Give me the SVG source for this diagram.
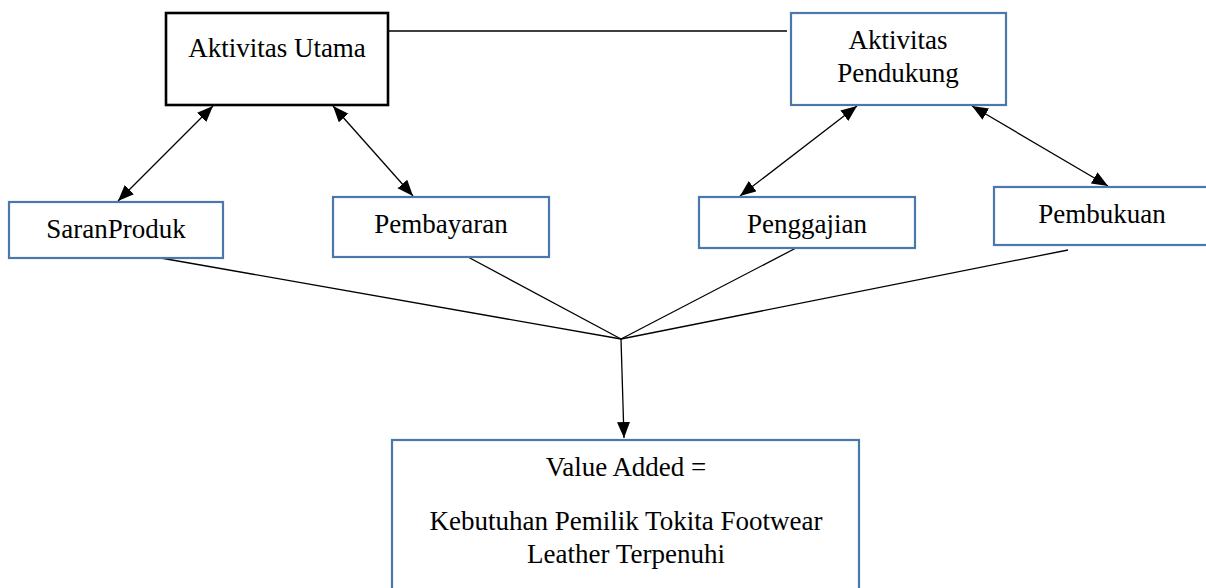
<svg xmlns="http://www.w3.org/2000/svg" width="1206" height="588" viewBox="0 0 1206 588">
  <defs>
    <style>
      .box { fill: #ffffff; stroke: #4a78ad; stroke-width: 2.2; }
      .main { fill: #ffffff; stroke: #000000; stroke-width: 2.6; }
      .lbl { font-family: "Liberation Serif", "Times New Roman", serif; font-size: 27px; fill: #000000; text-anchor: middle; }
      .link { stroke: #000000; stroke-width: 1.3; fill: none; }
      .arrow { marker-end: url(#head); }
      .both { marker-start: url(#head); marker-end: url(#head); }
    </style>
    <marker id="head" markerUnits="userSpaceOnUse" markerWidth="17" markerHeight="14" refX="16" refY="6.5" orient="auto-start-reverse">
      <path d="M0,0 L16,6.5 L0,13 z" fill="#000000"/>
    </marker>
  </defs>

  <rect width="1206" height="588" fill="#ffffff"/>

  <!-- connectors -->
  <g id="connectors">
    <line class="link" x1="383" y1="31" x2="787" y2="31"/>
    <line class="link both" x1="213" y1="106" x2="118" y2="201"/>
    <line class="link both" x1="333" y1="106" x2="413" y2="196"/>
    <line class="link both" x1="857" y1="106" x2="740" y2="196"/>
    <line class="link both" x1="972" y1="106" x2="1108" y2="186"/>
    <line class="link" x1="155" y1="257" x2="621" y2="339"/>
    <line class="link" x1="468" y1="257" x2="621" y2="339"/>
    <line class="link" x1="796" y1="248" x2="621" y2="339"/>
    <line class="link" x1="1068" y1="250" x2="621" y2="339"/>
    <line class="link arrow" x1="621" y1="339" x2="624" y2="438"/>
  </g>

  <!-- nodes -->
  <g id="aktivitas-utama">
    <rect class="main" x="166" y="13" width="222" height="92"/>
    <text class="lbl" x="277" y="57">Aktivitas Utama</text>
  </g>

  <g id="aktivitas-pendukung">
    <rect class="box" x="791" y="13" width="215" height="92"/>
    <text class="lbl" x="898" y="49">Aktivitas</text>
    <text class="lbl" x="898" y="82">Pendukung</text>
  </g>

  <g id="saran-produk">
    <rect class="box" x="9" y="202" width="214" height="56"/>
    <text class="lbl" x="116" y="238">SaranProduk</text>
  </g>

  <g id="pembayaran">
    <rect class="box" x="333" y="197" width="216" height="60"/>
    <text class="lbl" x="441" y="233">Pembayaran</text>
  </g>

  <g id="penggajian">
    <rect class="box" x="699" y="197" width="216" height="51"/>
    <text class="lbl" x="807" y="233">Penggajian</text>
  </g>

  <g id="pembukuan">
    <rect class="box" x="994" y="187" width="216" height="58"/>
    <text class="lbl" x="1102" y="223">Pembukuan</text>
  </g>

  <g id="value-added">
    <rect class="box" x="392" y="440" width="467" height="170"/>
    <text class="lbl" x="626" y="476">Value Added =</text>
    <text class="lbl" x="626" y="530">Kebutuhan Pemilik Tokita Footwear</text>
    <text class="lbl" x="626" y="563">Leather Terpenuhi</text>
  </g>
</svg>
